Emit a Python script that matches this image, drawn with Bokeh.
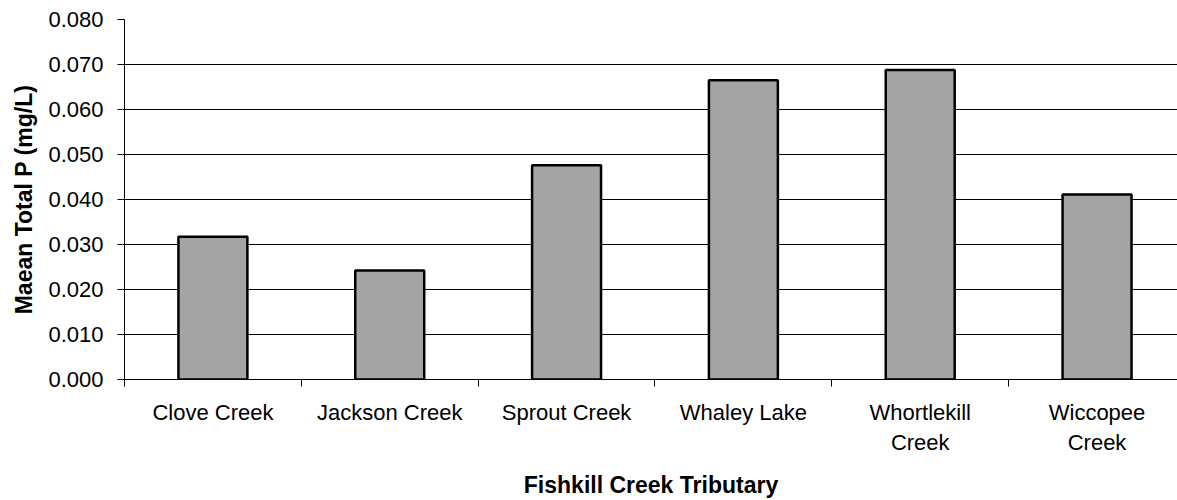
import numpy as np
from bokeh.plotting import figure
from bokeh.models import Range1d, FixedTicker, NumeralTickFormatter, ColumnDataSource
from bokeh.embed import file_html
from bokeh.resources import INLINE

categories = ["Clove Creek", "Jackson Creek", "Sprout Creek", "Whaley Lake",
              "Whortlekill\nCreek", "Wiccopee\nCreek"]
mean_total_p = [0.0317, 0.0242, 0.0476, 0.0665, 0.0688, 0.0411]
y_ticks = [0.0, 0.01, 0.02, 0.03, 0.04, 0.05, 0.06, 0.07, 0.08]

FONT = "Liberation Sans"

xs = np.arange(len(categories)) + 0.5
src = ColumnDataSource(dict(x=xs, top=mean_total_p))

p = figure(width=1177, height=500, output_backend="svg", toolbar_location=None,
           x_range=Range1d(0, 5.955), y_range=Range1d(0, 0.08),
           min_border_left=124, min_border_top=19, min_border_bottom=121,
           min_border_right=0)
p.outline_line_color = None
p.background_fill_color = "white"
p.border_fill_color = "white"

p.vbar(x="x", top="top", width=0.39, bottom=0, source=src,
       fill_color="#A4A4A4", line_color="black", line_width=2.5)

# y axis
yax = p.yaxis[0]
yax.ticker = FixedTicker(ticks=y_ticks)
yax.formatter = NumeralTickFormatter(format="0.000")
yax.axis_label = "Maean Total P (mg/L)"
yax.axis_label_text_font = FONT
yax.axis_label_text_font_style = "bold"
yax.axis_label_text_font_size = "23px"
yax.axis_label_text_color = "black"
yax.axis_label_standoff = 8
yax.major_label_text_font = FONT
yax.major_label_text_font_size = "22px"
yax.major_label_text_color = "black"
yax.major_label_standoff = 14
yax.major_tick_out = 7
yax.major_tick_in = 0
yax.major_tick_line_color = "black"
yax.minor_tick_line_color = None
yax.axis_line_color = "black"

# x axis
xax = p.xaxis[0]
xax.ticker = FixedTicker(ticks=list(xs), minor_ticks=list(range(len(categories) + 1)))
xax.major_label_overrides = {float(x): c for x, c in zip(xs, categories)}
xax.axis_label = "Fishkill Creek Tributary"
xax.axis_label_text_font = FONT
xax.axis_label_text_font_style = "bold"
xax.axis_label_text_font_size = "23px"
xax.axis_label_text_color = "black"
xax.axis_label_standoff = 14
xax.major_label_text_font = FONT
xax.major_label_text_font_size = "22px"
xax.major_label_text_color = "black"
xax.major_label_standoff = 13
xax.major_tick_out = 0
xax.major_tick_in = 0
xax.major_tick_line_color = None
xax.minor_tick_out = 7
xax.minor_tick_in = 0
xax.minor_tick_line_color = "black"
xax.axis_line_color = "black"

p.xgrid.grid_line_color = None
p.ygrid.ticker = FixedTicker(ticks=y_ticks)
p.ygrid.grid_line_color = "black"
p.ygrid.grid_line_width = 1

open("out.html", "w").write(file_html(p, INLINE))
